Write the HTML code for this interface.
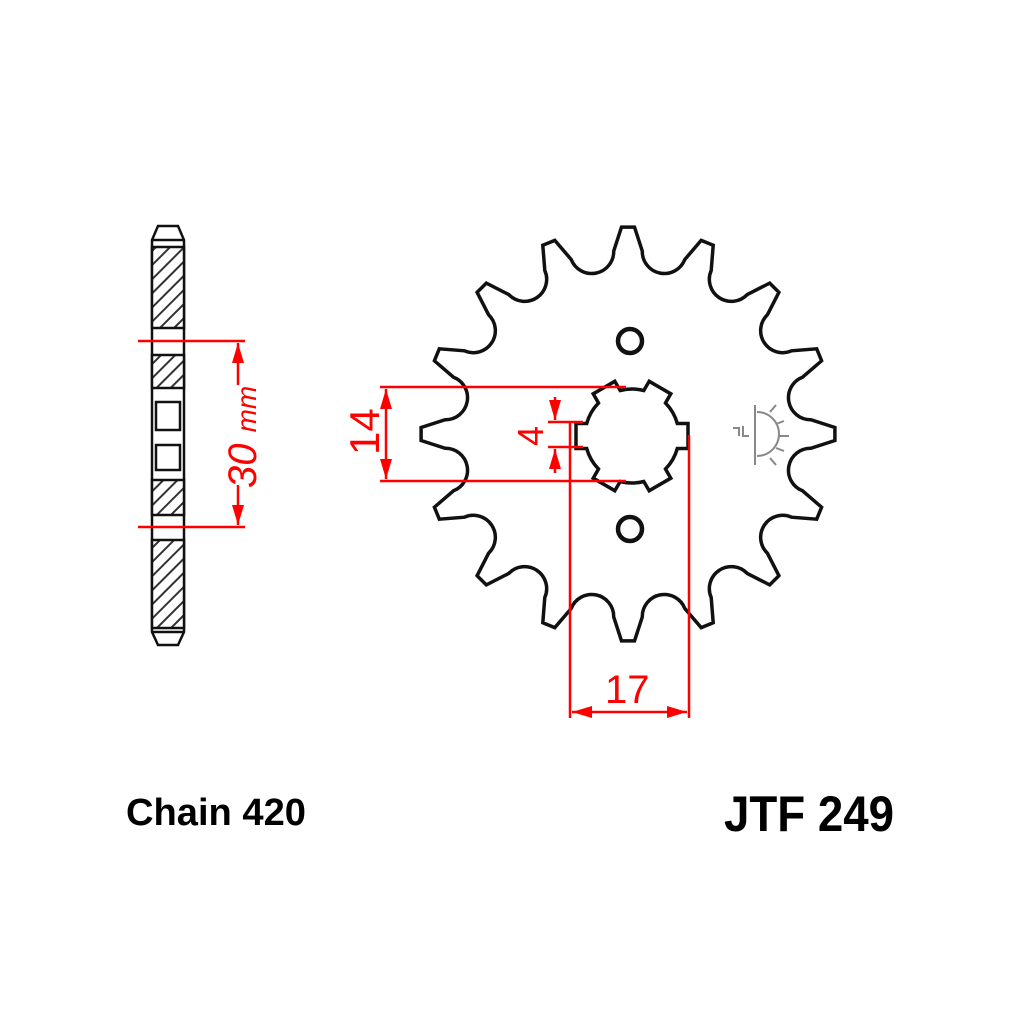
<!DOCTYPE html>
<html><head><meta charset="utf-8"><style>
html,body{margin:0;padding:0;background:#fff;}
svg{display:block}
text{font-family:"Liberation Sans",sans-serif}
</style></head><body>
<svg id="s" width="1024" height="1024" viewBox="0 0 1024 1024" xmlns="http://www.w3.org/2000/svg">
<defs>
<pattern id="h" width="10" height="10" patternUnits="userSpaceOnUse" patternTransform="rotate(-45)">
<rect width="10" height="10" fill="#fff"/><line x1="0" y1="5" x2="10" y2="5" stroke="#333" stroke-width="2"/>
</pattern>
<marker id="a" viewBox="0 0 10 10" refX="10" refY="5" markerWidth="8" markerHeight="8" orient="auto-start-reverse"><path d="M0,2 L10,5 L0,8z" fill="#f00"/></marker>
</defs>
<rect width="1024" height="1024" fill="#fff"/>
<g stroke="#111" stroke-width="2.5">
<path d="M158,226 L178,226 L184,240 L184,632 L178,645 L158,645 L152,632 L152,240 Z" fill="#fff"/>
<rect x="152" y="247" width="32" height="81" fill="url(#h)"/>
<rect x="152" y="355" width="32" height="33" fill="url(#h)"/>
<rect x="156" y="402" width="24" height="28" fill="#fff"/>
<rect x="156" y="445" width="24" height="25" fill="#fff"/>
<rect x="152" y="480" width="32" height="35" fill="url(#h)"/>
<rect x="152" y="540" width="32" height="88" fill="url(#h)"/>
<line x1="152" y1="240" x2="184" y2="240"/><line x1="152" y1="632" x2="184" y2="632"/>
</g>
<g stroke="#f00" stroke-width="2.5" fill="none">
<line x1="138" y1="341" x2="245" y2="341"/><line x1="138" y1="527" x2="245" y2="527"/>
<line x1="238" y1="360" x2="238" y2="343" marker-end="url(#a)"/>
<line x1="238" y1="505" x2="238" y2="525" marker-end="url(#a)"/>
<line x1="238" y1="360" x2="238" y2="385"/><line x1="238" y1="485" x2="238" y2="505"/>
</g>
<text transform="translate(256,488) rotate(-90)" fill="#f00" font-size="40" font-style="italic">30 <tspan font-size="28">mm</tspan></text>
<path id="sp" fill="#fff" stroke="#111" stroke-width="3.5"/>
<path id="bore" fill="#fff" stroke="#111" stroke-width="3.5"/>
<circle cx="630" cy="341" r="12" fill="#fff" stroke="#111" stroke-width="4.5"/>
<circle cx="630" cy="529" r="12" fill="#fff" stroke="#111" stroke-width="4.5"/>
<g stroke="#888" stroke-width="2" fill="none">
<line x1="755" y1="405" x2="755" y2="465"/><path d="M757,412 A22,22 0 0 1 757,456"/>
<line x1="770" y1="412" x2="776" y2="405"/><line x1="776" y1="424" x2="784" y2="421"/><line x1="779" y1="436" x2="789" y2="436"/><line x1="776" y1="448" x2="784" y2="451"/><line x1="770" y1="458" x2="776" y2="465"/>
<path d="M733,428 h6 v8 M743,426 v10 h6"/>
</g>
<g stroke="#f00" stroke-width="2.5" fill="none">
<line x1="380" y1="387" x2="626" y2="387"/><line x1="380" y1="481" x2="626" y2="481"/>
<line x1="386" y1="420" x2="386" y2="389" marker-end="url(#a)"/>
<line x1="386" y1="450" x2="386" y2="479" marker-end="url(#a)"/>
<line x1="386" y1="420" x2="386" y2="450"/>
<line x1="548" y1="422" x2="583" y2="422"/><line x1="548" y1="447" x2="583" y2="447"/>
<line x1="555" y1="397" x2="555" y2="420" marker-end="url(#a)"/>
<line x1="555" y1="473" x2="555" y2="449" marker-end="url(#a)"/>
<line x1="570" y1="422" x2="570" y2="718"/><line x1="689" y1="435" x2="689" y2="718"/>
<line x1="600" y1="712" x2="572" y2="712" marker-end="url(#a)"/>
<line x1="600" y1="712" x2="687" y2="712" marker-end="url(#a)"/>
</g>
<text transform="translate(379,455) rotate(-90)" fill="#f00" font-size="42">14</text>
<text transform="translate(543,446) rotate(-90)" fill="#f00" font-size="36">4</text>
<text x="605" y="703" fill="#f00" font-size="40">17</text>
<text x="126" y="825" font-size="38" font-weight="bold" textLength="180" lengthAdjust="spacingAndGlyphs">Chain 420</text>
<text x="724" y="831" font-size="50" font-weight="bold" textLength="170" lengthAdjust="spacingAndGlyphs">JTF 249</text>
</svg>
<script>
(function(){
var cx=628,cy=434,N=16,Rt=207,hw=1.8*Math.PI/180,Rc=186,r=22,al=100*Math.PI/180;
function P(R,a){return [cx+R*Math.cos(a),cy+R*Math.sin(a)];}
var d="";
for(var i=0;i<N;i++){
 var t=-Math.PI/2+i*2*Math.PI/N, v=t+Math.PI/N;
 var a1=P(Rt,t-hw),a2=P(Rt,t+hw);
 d+=(i==0?"M":"L")+a1[0].toFixed(1)+","+a1[1].toFixed(1)+"L"+a2[0].toFixed(1)+","+a2[1].toFixed(1);
 var c=P(Rc,v),ux=Math.cos(v),uy=Math.sin(v),tx=-uy,ty=ux;
 var s=[c[0]+r*(Math.cos(al)*ux-Math.sin(al)*tx),c[1]+r*(Math.cos(al)*uy-Math.sin(al)*ty)];
 var e=[c[0]+r*(Math.cos(al)*ux+Math.sin(al)*tx),c[1]+r*(Math.cos(al)*uy+Math.sin(al)*ty)];
 d+="L"+s[0].toFixed(1)+","+s[1].toFixed(1)+"A"+r+","+r+" 0 0 0 "+e[0].toFixed(1)+","+e[1].toFixed(1);
}
d+="Z";
document.getElementById("sp").setAttribute("d",d);
var bx=632,by=436,R1=47,R2=56,w=12.5,b="";
for(var k=0;k<6;k++){
 var g=k*Math.PI/3,ux=Math.cos(g),uy=Math.sin(g),tx=-uy,ty=ux;
 var i1=Math.sqrt(R1*R1-w*w);
 var p1=[bx+i1*ux-w*tx,by+i1*uy-w*ty],p2=[bx+R2*ux-w*tx,by+R2*uy-w*ty],p3=[bx+R2*ux+w*tx,by+R2*uy+w*ty],p4=[bx+i1*ux+w*tx,by+i1*uy+w*ty];
 var g2=g+Math.PI/3,nx=Math.cos(g2),ny=Math.sin(g2),mx=-ny,my=nx;
 var q=[bx+i1*nx-w*mx,by+i1*ny-w*my];
 b+=(k==0?"M":"L")+p1[0].toFixed(1)+","+p1[1].toFixed(1)+"L"+p2[0].toFixed(1)+","+p2[1].toFixed(1)+"L"+p3[0].toFixed(1)+","+p3[1].toFixed(1)+"L"+p4[0].toFixed(1)+","+p4[1].toFixed(1)+"A"+R1+","+R1+" 0 0 1 "+q[0].toFixed(1)+","+q[1].toFixed(1);
}
b+="Z";
document.getElementById("bore").setAttribute("d",b);
})();
</script>
</body></html>
